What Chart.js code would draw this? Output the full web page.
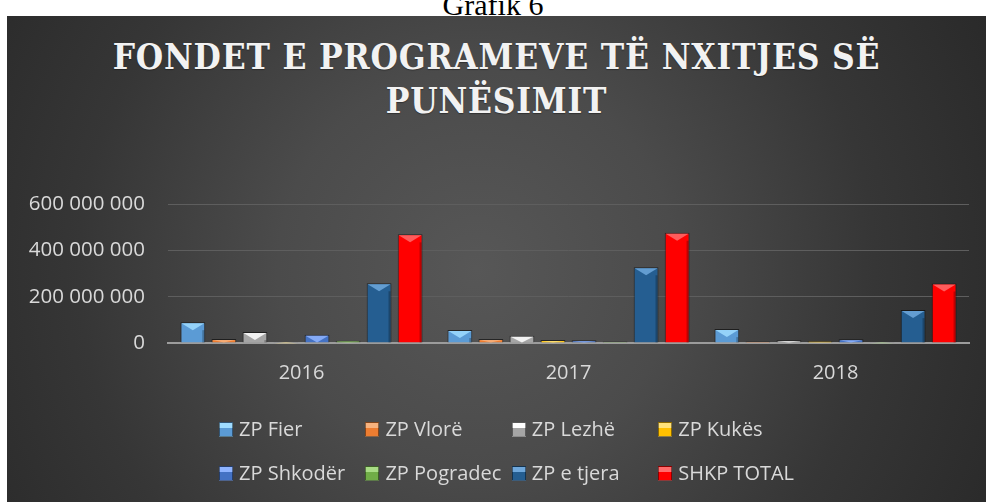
<!DOCTYPE html>
<html>
<head>
<meta charset="utf-8">
<script src="https://cdn.jsdelivr.net/npm/chart.js@4/dist/chart.umd.min.js"></script>
<style>
html,body{margin:0;padding:0;background:#fff;width:986px;height:502px;overflow:hidden;position:relative;}
#cap{position:absolute;left:0;top:-12px;width:986px;text-align:center;font:30px "Liberation Serif",serif;color:#000;}
#panel{position:absolute;left:7px;top:16px;width:979px;height:486px;
  background:radial-gradient(circle farthest-corner at 48% 52%, #575757 0%, #4b4b4b 35%, #363636 70%, #2a2a2a 100%);}
#title{position:absolute;left:7px;top:35px;width:979px;text-align:center;
  font-family:"DejaVu Serif Condensed","DejaVu Serif",serif;font-stretch:condensed;font-weight:bold;
  font-size:35px;line-height:44px;letter-spacing:0.8px;color:#f2f2f2;text-shadow:0 1px 1px rgba(0,0,0,.35);}
#c{position:absolute;left:0;top:0;}
.lg{position:absolute;font:20px "Open Sans",sans-serif;color:#d9d9d9;white-space:nowrap;line-height:24px;}
.lg i{display:inline-block;width:12px;height:13px;margin-right:6px;vertical-align:-1px;border:1px solid rgba(0,0,0,.45);}
</style>
</head>
<body>
<div id="cap">Grafik 6</div>
<div id="panel"></div>
<div id="title">FONDET E PROGRAMEVE TË NXITJES SË<br>PUNËSIMIT</div>
<canvas id="c" width="986" height="502"></canvas>
<div id="legend"></div>
<script>
// te dhenat (lexuar nga grafiku)
const vitet = ['2016', '2017', '2018'];
const seriaEmrat = ['ZP Fier', 'ZP Vlorë', 'ZP Lezhë', 'ZP Kukës', 'ZP Shkodër', 'ZP Pogradec', 'ZP e tjera', 'SHKP TOTAL'];
const zpFier     = [90000000, 56000000, 60000000];
const zpVlore    = [17000000, 17000000, 6000000];
const zpLezhe    = [47000000, 31000000, 12000000];
const zpKukes    = [3000000, 13000000, 8000000];
const zpShkoder  = [36000000, 12000000, 16000000];
const zpPogradec = [10000000, 7000000, 3000000];
const zpTjera    = [258000000, 327000000, 142000000];
const shkpTotal  = [469000000, 476000000, 257000000];
const yTicks = [0, 200000000, 400000000, 600000000];

const ngjyrat = ['#5B9BD5', '#ED7D31', '#A5A5A5', '#FFC000', '#4472C4', '#70AD47', '#255E91', '#FF0000'];
const ngjyratLarta = ['#9fdcff', '#f7b27e', '#ffffff', '#ffe27a', '#8fb4ff', '#a8dc85', '#6fa8dc', '#ff6b6b'];
const seriat = [zpFier, zpVlore, zpLezhe, zpKukes, zpShkoder, zpPogradec, zpTjera, shkpTotal];

function formato(v){
  return String(v).replace(/\B(?=(\d{3})+(?!\d))/g, ' ');
}

// efekti "bevel" ne majen e shtyllave
const bevel = {
  id: 'bevel',
  afterDatasetsDraw(chart){
    const ctx = chart.ctx;
    chart.data.datasets.forEach((ds, i) => {
      const meta = chart.getDatasetMeta(i);
      meta.data.forEach(bar => {
        const w = bar.width, x0 = bar.x - w/2, x1 = bar.x + w/2;
        const h = bar.base - bar.y;
        if (h <= 0) return;
        const d = Math.min(8, h);
        ctx.save();
        ctx.fillStyle = ngjyratLarta[i];
        ctx.globalAlpha = 0.85;
        ctx.beginPath();
        ctx.moveTo(x0+1, bar.y+1);
        ctx.lineTo(x1-1, bar.y+1);
        ctx.lineTo(bar.x, bar.y + d);
        ctx.closePath();
        ctx.fill();
        ctx.globalAlpha = 0.25;
        ctx.fillStyle = '#000';
        ctx.fillRect(x1-3, bar.y+d, 2, h-d);
        ctx.restore();
      });
    });
  }
};

const datasets = seriaEmrat.map((emri, i) => ({
  label: emri,
  data: seriat[i],
  backgroundColor: ngjyrat[i],
  borderColor: 'rgba(0,0,0,0.55)',
  borderWidth: 1,
  categoryPercentage: 0.93,
  barPercentage: 0.8
}));

new Chart(document.getElementById('c'), {
  type: 'bar',
  data: { labels: vitet, datasets },
  options: {
    responsive: false,
    animation: false,
    layout: { padding: { left: 0, right: 17, top: 204, bottom: 109 } },
    plugins: { legend: { display: false }, title: { display: false }, tooltip: { enabled: false } },
    scales: {
      x: {
        grid: { display: false, drawTicks: false },
        border: { display: true, color: '#9c9c9c', width: 2 },
        ticks: { color: '#d9d9d9', font: { family: 'Open Sans', size: 20 }, padding: 18 },
        afterFit(s){ s.height = 50; }
      },
      y: {
        min: 0, max: 600000000,
        afterBuildTicks(s){ s.ticks = yTicks.map(v => ({ value: v })); },
        grid: { color: '#5e5e5e', lineWidth: 1, drawTicks: false },
        border: { display: false },
        ticks: { color: '#d9d9d9', font: { family: 'Open Sans', size: 20.5 }, padding: 23, callback: v => formato(v) },
        afterFit(s){ s.width = 168; }
      }
    }
  },
  plugins: [bevel]
});

// legjenda (4 kolona x 2 rreshta)
const lg = document.getElementById('legend');
seriaEmrat.forEach((emri, i) => {
  const el = document.createElement('div');
  el.className = 'lg';
  el.style.left = (219 + (i % 4) * 146.4) + 'px';
  el.style.top = (i < 4 ? 417 : 461) + 'px';
  el.innerHTML = '<i style="background:linear-gradient(to bottom,' + ngjyratLarta[i] + ' 0 40%,' + ngjyrat[i] + ' 40%)"></i>' + emri;
  lg.appendChild(el);
});
</script>
</body>
</html>
